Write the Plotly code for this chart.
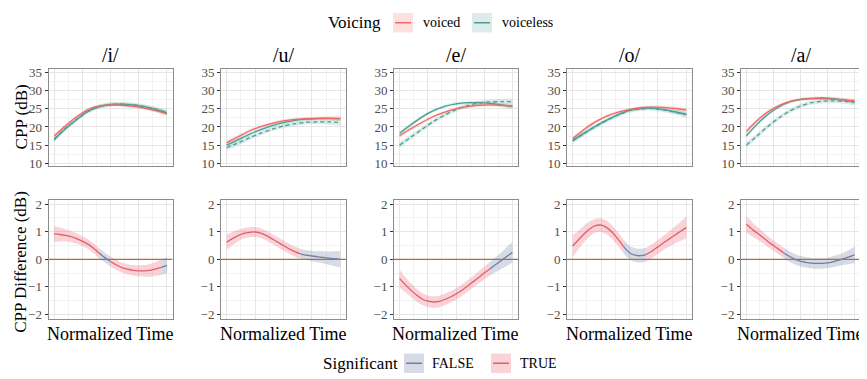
import plotly.graph_objects as go
from plotly.subplots import make_subplots

# the page body has an 8px margin, so the figure is drawn 8px in from the top-left
OFF = 8
W, H = 867 - OFF, 379 - OFF

# ---------------- data ----------------
vowels = ["/i/", "/u/", "/e/", "/o/", "/a/"]
time_top = [0, 10, 20, 30, 40, 50, 60, 70, 80, 90, 100]

voiced_i = [17.5, 20.3, 22.8, 24.8, 25.8, 26.1, 26.0, 25.7, 25.2, 24.5, 23.7]
voiceless_i = [16.5, 19.5, 22.05, 24.3, 25.6, 26.2, 26.3, 26.1, 25.6, 24.85, 23.9]
dashed_i = [16.6, 19.6, 22.1, 24.3, 25.6, 26.2, 26.3, 26.1, 25.6, 24.9, 24.0]

voiced_u = [15.7, 17.3, 18.9, 20.1, 21.0, 21.7, 22.1, 22.3, 22.4, 22.4, 22.3]
voiceless_u = [15.0, 16.5, 18.0, 19.3, 20.4, 21.2, 21.8, 22.15, 22.3, 22.35, 22.3]
dashed_u = [14.3, 15.6, 17.0, 18.3, 19.4, 20.3, 20.9, 21.3, 21.4, 21.4, 21.2]

voiced_e = [17.6, 19.5, 21.3, 22.9, 24.1, 25.0, 25.6, 26.0, 26.1, 26.0, 25.8]
voiceless_e = [18.3, 20.6, 22.8, 24.5, 25.7, 26.4, 26.7, 26.7, 26.5, 26.1, 25.6]
dashed_e = [15.0, 17.2, 19.4, 21.5, 23.3, 24.8, 25.9, 26.6, 26.9, 27.0, 27.0]

voiced_o = [16.8, 19.3, 21.4, 23.0, 24.1, 24.8, 25.3, 25.5, 25.4, 25.1, 24.7]
voiceless_o = [16.3, 18.3, 20.2, 21.9, 23.4, 24.6, 25.1, 25.2, 24.8, 24.2, 23.5]
dashed_o = [16.2, 18.2, 20.1, 21.8, 23.3, 24.5, 25.0, 25.1, 24.7, 24.1, 23.4]

voiced_a = [18.8, 21.8, 24.2, 25.9, 27.0, 27.6, 27.8, 27.8, 27.7, 27.5, 27.2]
voiceless_a = [17.6, 20.8, 23.5, 25.5, 26.9, 27.6, 27.9, 28.0, 27.8, 27.4, 27.0]
dashed_a = [15.0, 17.6, 20.2, 22.5, 24.4, 25.8, 26.7, 27.1, 27.2, 27.1, 26.8]

se_voiced = [0.6, 0.5, 0.45, 0.4, 0.4, 0.4, 0.4, 0.4, 0.45, 0.5, 0.6]
se_voiceless = [0.6, 0.5, 0.45, 0.4, 0.4, 0.4, 0.4, 0.4, 0.45, 0.5, 0.6]
se_dashed = [0.8, 0.7, 0.65, 0.6, 0.6, 0.6, 0.6, 0.6, 0.65, 0.7, 0.8]

time_diff = [0, 5, 10, 15, 20, 25, 30, 35, 40, 45, 50, 55, 60, 65, 70, 75, 80, 85, 90, 95, 100]

diff_i = [0.92, 0.9, 0.87, 0.82, 0.75, 0.66, 0.55, 0.4, 0.22, 0.06, -0.08, -0.2, -0.3, -0.36, -0.4, -0.42, -0.42, -0.4, -0.35, -0.29, -0.22]
sig_i = [1, 1, 1, 1, 1, 1, 1, 1, 1, 0, 0, 1, 1, 1, 1, 1, 1, 1, 1, 1, 0]
se_i = [0.28, 0.25, 0.22, 0.2, 0.19, 0.18, 0.18, 0.18, 0.18, 0.18, 0.18, 0.18, 0.18, 0.18, 0.19, 0.2, 0.21, 0.23, 0.25, 0.28, 0.3]

diff_u = [0.62, 0.75, 0.86, 0.94, 0.98, 0.99, 0.95, 0.86, 0.74, 0.62, 0.5, 0.38, 0.28, 0.2, 0.15, 0.12, 0.09, 0.07, 0.04, 0.02, 0.0]
sig_u = [1, 1, 1, 1, 1, 1, 1, 1, 1, 1, 1, 1, 1, 1, 0, 0, 0, 0, 0, 0, 0]
se_u = [0.28, 0.24, 0.21, 0.19, 0.18, 0.18, 0.18, 0.18, 0.18, 0.18, 0.18, 0.18, 0.18, 0.18, 0.18, 0.19, 0.2, 0.22, 0.24, 0.27, 0.3]

diff_e = [-0.7, -0.92, -1.12, -1.3, -1.44, -1.52, -1.55, -1.53, -1.46, -1.37, -1.26, -1.13, -0.98, -0.82, -0.66, -0.5, -0.35, -0.2, -0.05, 0.1, 0.25]
sig_e = [1, 1, 1, 1, 1, 1, 1, 1, 1, 1, 1, 1, 1, 1, 1, 1, 1, 0, 0, 0, 0]
se_e = [0.32, 0.28, 0.25, 0.23, 0.22, 0.21, 0.21, 0.21, 0.21, 0.21, 0.21, 0.21, 0.21, 0.21, 0.22, 0.23, 0.25, 0.27, 0.3, 0.34, 0.38]

diff_o = [0.48, 0.7, 0.92, 1.1, 1.22, 1.24, 1.15, 0.97, 0.72, 0.45, 0.24, 0.15, 0.13, 0.18, 0.3, 0.45, 0.6, 0.74, 0.88, 1.02, 1.15]
sig_o = [1, 1, 1, 1, 1, 1, 1, 1, 1, 1, 0, 0, 0, 0, 1, 1, 1, 1, 1, 1, 1]
se_o = [0.4, 0.34, 0.3, 0.27, 0.25, 0.25, 0.25, 0.25, 0.25, 0.25, 0.25, 0.25, 0.25, 0.25, 0.25, 0.25, 0.26, 0.28, 0.31, 0.35, 0.4]

diff_a = [1.27, 1.1, 0.95, 0.8, 0.64, 0.5, 0.36, 0.22, 0.1, 0.0, -0.07, -0.11, -0.14, -0.15, -0.15, -0.13, -0.09, -0.04, 0.02, 0.09, 0.16]
sig_a = [1, 1, 1, 1, 1, 1, 1, 1, 0, 0, 0, 0, 0, 0, 0, 0, 0, 0, 0, 0, 0]
se_a = [0.3, 0.26, 0.23, 0.21, 0.2, 0.19, 0.19, 0.19, 0.19, 0.19, 0.19, 0.19, 0.19, 0.19, 0.19, 0.19, 0.2, 0.21, 0.23, 0.26, 0.3]

y_ticks_top = [10, 15, 20, 25, 30, 35]
y_ticks_bottom = [-2, -1, 0, 1, 2]

top_data = [
    (voiced_i, voiceless_i, dashed_i),
    (voiced_u, voiceless_u, dashed_u),
    (voiced_e, voiceless_e, dashed_e),
    (voiced_o, voiceless_o, dashed_o),
    (voiced_a, voiceless_a, dashed_a),
]
bottom_data = [
    (diff_i, sig_i, se_i),
    (diff_u, sig_u, se_u),
    (diff_e, sig_e, se_e),
    (diff_o, sig_o, se_o),
    (diff_a, sig_a, se_a),
]

# ---------------- style ----------------
FONT = "Liberation Serif"
C_VOICED = "#EE6A60"
F_VOICED = "rgba(248,118,109,0.22)"
C_VLESS = "#4A9E98"
F_VLESS = "rgba(74,160,154,0.20)"
C_TRUE = "#E35D6A"
F_TRUE = "rgba(236,110,125,0.30)"
C_FALSE = "#6F7F9F"
F_FALSE = "rgba(120,135,168,0.30)"
C_ZERO = "#B36B45"

# layout in page pixels (reference image coordinates)
panel_px = [(48.5, 172.5), (221, 346), (394, 518), (567, 692), (741, 860)]
row_px = [(66, 166), (201, 323)]


def px_x(p):
    return (p - OFF) / W


def px_y(p):
    return 1 - (p - OFF) / H


fig = make_subplots(rows=2, cols=5)


def add_band(x, lo, hi, fillcolor, row, col):
    fig.add_trace(go.Scatter(x=x, y=lo, mode="lines",
                             line=dict(width=0, shape="spline", smoothing=0.8),
                             hoverinfo="skip", showlegend=False), row=row, col=col)
    fig.add_trace(go.Scatter(x=x, y=hi, mode="lines",
                             line=dict(width=0, shape="spline", smoothing=0.8),
                             fill="tonexty", fillcolor=fillcolor,
                             hoverinfo="skip", showlegend=False), row=row, col=col)


def add_line(x, y, color, row, col, dash="solid"):
    fig.add_trace(go.Scatter(x=x, y=y, mode="lines",
                             line=dict(width=1.3, color=color, shape="spline", smoothing=0.8, dash=dash),
                             hoverinfo="skip", showlegend=False), row=row, col=col)


# top row
for c, (vd, vl, ds) in enumerate(top_data, start=1):
    for vals, se, fc in ((vl, se_voiceless, F_VLESS), (ds, se_dashed, F_VLESS), (vd, se_voiced, F_VOICED)):
        add_band(time_top, [v - s for v, s in zip(vals, se)], [v + s for v, s in zip(vals, se)], fc, 1, c)
    add_line(time_top, vl, C_VLESS, 1, c)
    add_line(time_top, ds, C_VLESS, 1, c, dash="4px,3px")
    add_line(time_top, vd, C_VOICED, 1, c)

# bottom row
for c, (dv, sg, se) in enumerate(bottom_data, start=1):
    segs = []
    start = 0
    for i in range(1, len(sg) + 1):
        if i == len(sg) or sg[i] != sg[i - 1]:
            s0 = start - 1 if start > 0 else 0
            segs.append((s0, i, sg[i - 1]))
            start = i
    for s0, s1, flag in segs:
        xs = time_diff[s0:s1]
        ys = dv[s0:s1]
        ss = se[s0:s1]
        add_band(xs, [y - s for y, s in zip(ys, ss)], [y + s for y, s in zip(ys, ss)],
                 F_TRUE if flag else F_FALSE, 2, c)
    fig.add_trace(go.Scatter(x=[-5, 105], y=[0, 0], mode="lines",
                             line=dict(width=1.3, color=C_ZERO),
                             hoverinfo="skip", showlegend=False), row=2, col=c)
    for s0, s1, flag in segs:
        add_line(time_diff[s0:s1], dv[s0:s1], C_TRUE if flag else C_FALSE, 2, c)

# ---------------- axes ----------------
grid = dict(showgrid=True, gridcolor="#E6E6E6", gridwidth=1, zeroline=False,
            showline=True, mirror=True, linecolor="#8C8C8C", linewidth=1)

for r in (1, 2):
    for c in range(1, 6):
        k = (r - 1) * 5 + c
        xs = "xaxis" if k == 1 else f"xaxis{k}"
        ys = "yaxis" if k == 1 else f"yaxis{k}"
        x0, x1 = panel_px[c - 1]
        yt, yb = row_px[r - 1]
        fig.layout[xs].update(domain=[px_x(x0), px_x(x1)], range=[-5, 105],
                              tick0=0, dtick=25, showticklabels=False, ticks="",
                              minor=dict(showgrid=True, gridcolor="#F2F2F2", gridwidth=0.7, tick0=0, dtick=12.5),
                              **grid)
        if r == 1:
            fig.layout[ys].update(domain=[px_y(yb), px_y(yt)], range=[9.2, 36.1],
                                  tickvals=y_ticks_top,
                                  minor=dict(showgrid=True, gridcolor="#F2F2F2", gridwidth=0.7, tick0=0, dtick=2.5),
                                  **grid)
        else:
            fig.layout[ys].update(domain=[px_y(yb), px_y(yt)], range=[-2.18, 2.14],
                                  tickvals=y_ticks_bottom,
                                  minor=dict(showgrid=True, gridcolor="#F2F2F2", gridwidth=0.7, tick0=0, dtick=0.5),
                                  **grid)
        fig.layout[ys].update(ticks="outside", ticklen=3, tickcolor="#333333", tickwidth=1,
                              tickfont=dict(family=FONT, size=13, color="#4D4D4D"))

# ---------------- annotations ----------------
ann = []
for c, name in enumerate(vowels):
    x0, x1 = panel_px[c]
    ann.append(dict(text=name, x=px_x((x0 + x1) / 2), y=px_y(52), xref="paper", yref="paper",
                    showarrow=False, xanchor="center", yanchor="middle",
                    font=dict(family=FONT, size=20, color="black")))
    ann.append(dict(text="Normalized Time", x=px_x((x0 + x1) / 2), y=px_y(338), xref="paper", yref="paper",
                    showarrow=False, xanchor="center", yanchor="middle",
                    font=dict(family=FONT, size=18, color="black")))

ann.append(dict(text="CPP (dB)", x=px_x(21), y=px_y(116), xref="paper", yref="paper",
                showarrow=False, textangle=-90, xanchor="center", yanchor="middle",
                font=dict(family=FONT, size=17, color="black")))
ann.append(dict(text="CPP Difference (dB)", x=px_x(21), y=px_y(264), xref="paper", yref="paper",
                showarrow=False, textangle=-90, xanchor="center", yanchor="middle",
                font=dict(family=FONT, size=17, color="black")))

shapes = []


def legend_key(xl, yc, fill, line):
    shapes.append(dict(type="rect", xref="paper", yref="paper",
                       x0=px_x(xl), x1=px_x(xl + 20), y0=px_y(yc + 10), y1=px_y(yc - 10),
                       fillcolor=fill, line=dict(width=0)))
    shapes.append(dict(type="line", xref="paper", yref="paper",
                       x0=px_x(xl + 2), x1=px_x(xl + 18), y0=px_y(yc), y1=px_y(yc),
                       line=dict(color=line, width=1.5)))


def legend_text(text, x, yc, size, anchor="left"):
    ann.append(dict(text=text, x=px_x(x), y=px_y(yc), xref="paper", yref="paper",
                    showarrow=False, xanchor=anchor, yanchor="middle",
                    font=dict(family=FONT, size=size, color="black")))


legend_text("Voicing", 326, 19, 17)
legend_key(393, 19, F_VOICED, C_VOICED)
legend_text("voiced", 421, 19, 14)
legend_key(472, 19, F_VLESS, C_VLESS)
legend_text("voiceless", 500, 19, 14)

legend_text("Significant", 321, 368, 17)
legend_key(404, 368, F_FALSE, C_FALSE)
legend_text("FALSE", 430, 368, 14)
legend_key(491, 368, F_TRUE, C_TRUE)
legend_text("TRUE", 518, 368, 14)

fig.update_layout(width=W, height=H, margin=dict(l=0, r=0, t=0, b=0),
                  paper_bgcolor="white", plot_bgcolor="white",
                  showlegend=False, annotations=ann, shapes=shapes,
                  font=dict(family=FONT))

fig.write_html("out.html")
